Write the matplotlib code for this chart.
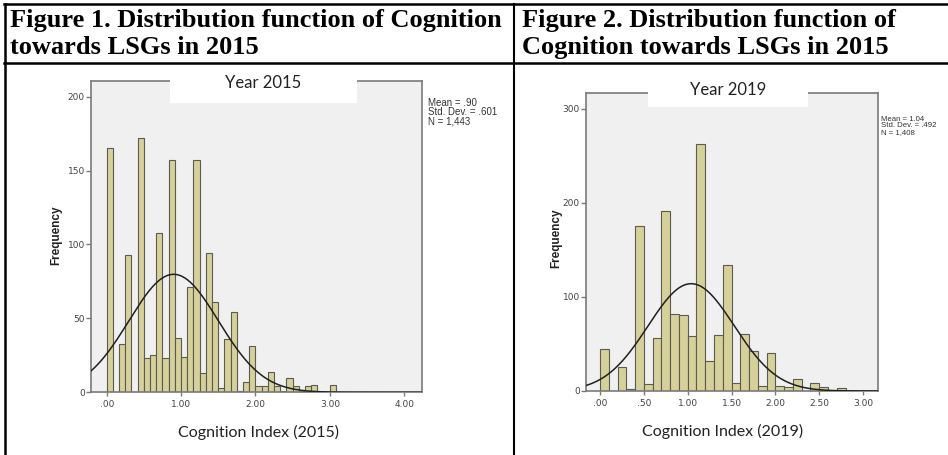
import numpy as np
import matplotlib
matplotlib.use("Agg")
import matplotlib.pyplot as plt
from matplotlib.lines import Line2D
from matplotlib.patches import Rectangle

# ---- data ----
# 2015: bins of width 1/12 starting at 0
counts_2015 = [165, 0, 33, 93, 0, 172, 23, 25, 108, 23, 157, 37, 24, 71, 157, 13,
               94, 61, 3, 36, 54, 1, 7, 31, 4, 4, 14, 4, 1, 10, 4, 1, 4, 5, 0, 0, 5]
binw_2015 = 1 / 12
mean_2015, sd_2015, n_2015 = 0.90, 0.601, 1443
xticks_2015 = [0, 1, 2, 3, 4]
xticklabels_2015 = [".00", "1.00", "2.00", "3.00", "4.00"]
yticks_2015 = [0, 50, 100, 150, 200]
stats_2015 = ["Mean = .90", "Std. Dev. = .601", "N = 1,443"]

# 2019: bins of width 0.1 starting at 0
counts_2019 = [45, 0, 26, 2, 176, 7, 56, 192, 82, 81, 58, 263, 32, 60, 134, 8,
               61, 43, 5, 40, 5, 4, 13, 0, 8, 4, 0, 3]
binw_2019 = 0.1
mean_2019, sd_2019, n_2019 = 1.04, 0.492, 1408
xticks_2019 = [0, 0.5, 1, 1.5, 2, 2.5, 3]
xticklabels_2019 = [".00", ".50", "1.00", "1.50", "2.00", "2.50", "3.00"]
yticks_2019 = [0, 100, 200, 300]
stats_2019 = ["Mean = 1.04", "Std. Dev. = .492", "N = 1,408"]

headers = [["Figure 1. Distribution function of Cognition", "towards LSGs in 2015"],
           ["Figure 2. Distribution function of", "Cognition towards LSGs in 2015"]]

W, H = 948, 455
fig = plt.figure(figsize=(W / 100, H / 100), dpi=100)
fig.patch.set_facecolor("white")


def fx(x):
    return x / W


def fy(y):
    return 1 - y / H


def hline(y, x0, x1, lw=1.8):
    fig.add_artist(Line2D([fx(x0), fx(x1)], [fy(y), fy(y)], color="black", lw=lw,
                          transform=fig.transFigure))


def vline(x, y0, y1, lw=1.8):
    fig.add_artist(Line2D([fx(x), fx(x)], [fy(y0), fy(y1)], color="black", lw=lw,
                          transform=fig.transFigure))


# table frame
hline(4, 4, 948)
hline(63, 4, 948)
vline(5, 4, 455)
vline(514, 4, 455, lw=1.5)

# header text
for (l1, l2), x in zip(headers, [10, 522]):
    fig.text(fx(x), fy(27), l1, fontfamily="Liberation Serif", fontweight="bold",
             fontsize=19, va="baseline", ha="left")
    fig.text(fx(x), fy(54), l2, fontfamily="Liberation Serif", fontweight="bold",
             fontsize=19, va="baseline", ha="left")


def histogram(px, xlim, ylim, counts, binw, mean, sd, n, xticks, xticklabels, yticks,
              title, tbox, tpos, xlabel, xlpos, ylpos, stats, spos, ssize, sgap):
    x0, y0, x1, y1 = px
    ax = fig.add_axes([fx(x0), fy(y1), (x1 - x0) / W, (y1 - y0) / H])
    ax.set_facecolor("#f0f0f0")
    counts = np.array(counts)
    lefts = np.arange(len(counts)) * binw
    keep = counts > 0
    ax.bar(lefts[keep], counts[keep], width=binw, align="edge", color="#d6d09a",
           edgecolor="#5b5b4f", linewidth=0.8, zorder=2)
    xs = np.linspace(xlim[0], xlim[1], 400)
    ys = n * binw / (sd * np.sqrt(2 * np.pi)) * np.exp(-0.5 * ((xs - mean) / sd) ** 2)
    ax.plot(xs, ys, color="#202020", lw=1.1, zorder=3)
    ax.set_xlim(xlim)
    ax.set_ylim(ylim)
    ax.set_xticks(xticks)
    ax.set_xticklabels(xticklabels)
    ax.set_yticks(yticks)
    for s in ax.spines.values():
        s.set_color("#7a7a7a")
        s.set_linewidth(1.2)
    ax.tick_params(axis="x", length=3, width=1, color="#7a7a7a", pad=2.5,
                   labelsize=6.5, labelcolor="#444444")
    ax.tick_params(axis="y", length=3.5, width=1, color="#7a7a7a", pad=0.8,
                   labelsize=6.5, labelcolor="#444444")
    # white box carrying the title
    bx0, by0, bx1, by1 = tbox
    fig.add_artist(Rectangle((fx(bx0), fy(by1)), (bx1 - bx0) / W, (by1 - by0) / H,
                             transform=fig.transFigure, facecolor="white",
                             edgecolor="none", zorder=5))
    fig.text(fx(tpos[0]), fy(tpos[1]), title, fontfamily="Lato", fontsize=12,
             ha="center", va="center", zorder=6, color="#222222")
    fig.text(fx(xlpos[0]), fy(xlpos[1]), xlabel, fontfamily="Lato", fontsize=11.5,
             ha="center", va="center", color="#222222")
    fig.text(fx(ylpos[0]), fy(ylpos[1]), "Frequency", fontfamily="Liberation Sans",
             fontweight="bold", fontsize=8.5, rotation=90, ha="center", va="center",
             color="#222222")
    for i, line in enumerate(stats):
        fig.text(fx(spos[0]), fy(spos[1] + i * sgap), line, fontfamily="Liberation Sans",
                 fontsize=ssize, ha="left", va="center", color="#333333")
    return ax


histogram((90.7, 81, 421.7, 392.3), (-0.215, 4.234), (0, 210.6),
          counts_2015, binw_2015, mean_2015, sd_2015, n_2015,
          xticks_2015, xticklabels_2015, yticks_2015,
          "Year 2015", (170, 72, 357, 103.3), (263.5, 83), "Cognition Index (2015)",
          (258.7, 432.7), (56, 235), stats_2015, (428, 103), 7, 9.2)

histogram((585.7, 93.3, 878.3, 391), (-0.163, 3.174), (0, 316.7),
          counts_2019, binw_2019, mean_2019, sd_2019, n_2019,
          xticks_2019, xticklabels_2019, yticks_2019,
          "Year 2019", (648.3, 80, 808.3, 106.7), (728, 90), "Cognition Index (2019)",
          (723, 431), (556, 238), stats_2019, (881.3, 119.5), 5.6, 6.3)

fig.savefig("out.png", dpi=100, facecolor="white")
